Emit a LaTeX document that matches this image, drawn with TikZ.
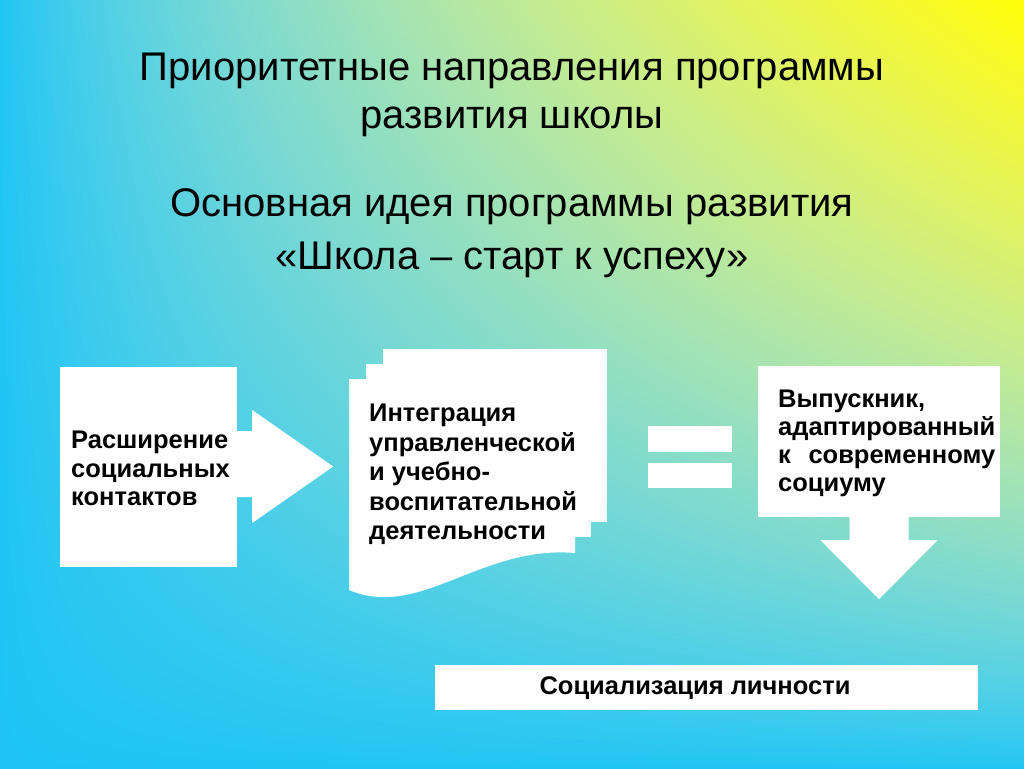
\documentclass[tikz,border=0pt]{standalone}
\usepackage{fontspec}
\setmainfont{Liberation Sans}
% cyan at the bottom and left, pale in the middle, yellow in the upper right corner
\pgfdeclarefunctionalshading{slideback}{\pgfpoint{0pt}{0pt}}{\pgfpoint{1028pt}{772pt}}{}{
  769.12 div exch 1024.16 div mul 0.85 exp
  dup 1 exch sub
  2 copy mul 2 mul
  3 1 roll
  dup mul
  exch dup mul
  2 index 0.84 mul 2 index 0.12 mul add 1 index 1.0 mul add
  4 1 roll
  2 index 0.93 mul 2 index 0.77 mul add 1 index 0.99 mul add
  4 1 roll
  2 index 0.80 mul 2 index 0.96 mul add 1 index 0.02 mul add
  4 1 roll pop pop pop
}
\tikzstyle{heading} = [text=black, font=\fontsize{40}{46}\selectfont,
    text height=30pt, text depth=8pt, inner sep=0pt]
\tikzstyle{block} = [rectangle, fill=white, inner sep=0pt]
\tikzstyle{boxtext} = [font=\bfseries\fontsize{25.5}{28.5}\selectfont, align=left, inner sep=0pt]
\tikzstyle{blockarrow} = [fill=white]

\begin{document}
\begin{tikzpicture}[x=1pt, y=1pt, node distance=48pt]
    % Background
    \useasboundingbox (0,0) rectangle (1024,-768);
    \node [inner sep=0pt, anchor=north west] (back) at (-2,2) {\pgfuseshading{slideback}};
    % Place nodes
    \node [heading] (title1) at (512,-69) {Приоритетные направления программы};
    \node [heading, below of=title1] (title2) {развития школы};
    \node [heading] (idea1) at (512,-205) {Основная идея программы развития};
    \node [heading, below of=idea1, node distance=53pt] (idea2) {«Школа – старт к успеху»};
    \node [block, minimum width=177pt, minimum height=200pt] (social) at (148.5,-467) {};
    \node [boxtext, anchor=west] (socialtxt) at (71,-468.5) {Расширение\\социальных\\контактов};
    % document with three sheets
    \fill [white] (383,-349) rectangle (607,-522);
    \fill [white] (366,-364) rectangle (591,-537);
    \fill [white] (349,-379) -- (575,-379) -- (575,-553)
        .. controls (480,-545) and (420,-620) .. (349,-590) -- cycle;
    \node [boxtext, anchor=west, font=\bfseries\fontsize{25.5}{29.5}\selectfont] (integ) at (369,-474.5)
        {Интеграция\\управленческой\\и учебно-\\воспитательной\\деятельности};
    \node [block, minimum width=84pt, minimum height=26pt] (eqtop) at (690,-439) {};
    \node [block, minimum width=84pt, minimum height=25pt, below of=eqtop, node distance=36.5pt] (eqbot) {};
    \node [block, minimum width=242pt, minimum height=151pt] (grad) at (879,-441.5) {};
    \node [boxtext, anchor=west, text width=217pt, font=\bfseries\fontsize{25.5}{28}\selectfont] (gradtxt) at (778,-443)
        {Выпускник,\\адаптированный\\к\hfill современному\\социуму};
    \node [block, minimum width=543pt, minimum height=45pt] (result) at (706.5,-687.5) {};
    \node [boxtext] (resulttxt) at (695,-688) {Социализация личности};
    % Draw edges
    \fill [blockarrow] ([yshift=36pt]social.east) -- ++(15,0) -- ++(0,21) -- ++(81,-56.5)
        -- ++(-81,-56.5) -- ++(0,26) -- ++(-15,0) -- cycle;
    \fill [blockarrow] ([xshift=-29.5pt]grad.south) -- ++(0,-23) -- ++(-29,0) -- ++(58.5,-59)
        -- ++(58.5,59) -- ++(-29,0) -- ++(0,23) -- cycle;
\end{tikzpicture}
\end{document}
